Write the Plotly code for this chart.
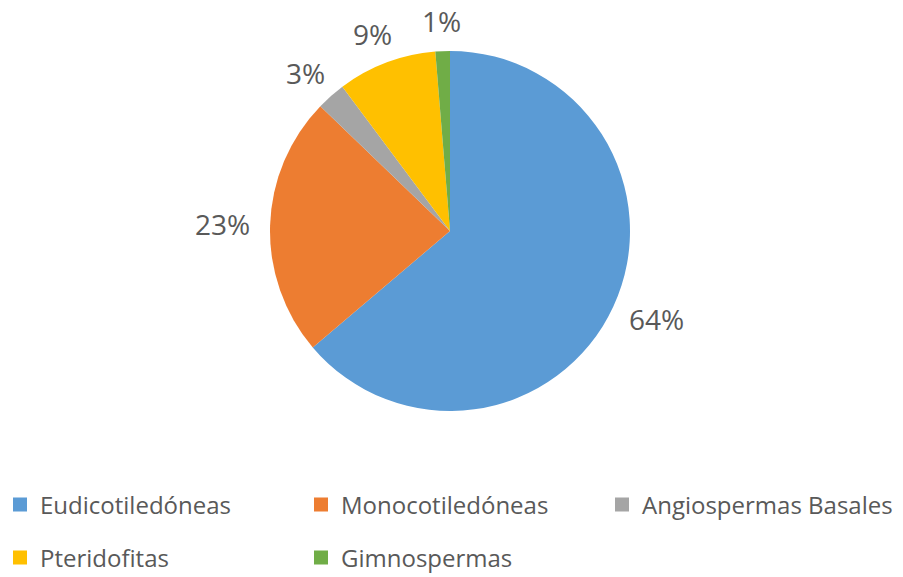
import math
import plotly.graph_objects as go

categories = ["Eudicotiledóneas", "Monocotiledóneas", "Angiospermas Basales", "Pteridofitas", "Gimnospermas"]
values = [63.8, 23.4, 2.6, 8.9, 1.3]
colors = ["#5B9BD5", "#ED7D31", "#A5A5A5", "#FFC000", "#70AD47"]
legend_rows = ["legend", "legend", "legend", "legend2", "legend2"]

W, H = 903, 577
cx, cy, R = 450, 231, 180  # pixel center/radius of pie
FONT = "Open Sans"
TXT = "#595959"
dom_x = [(cx - R) / W, (cx + R) / W]
dom_y = [(H - cy - R) / H, (H - cy + R) / H]

fig = go.Figure(go.Pie(
    labels=categories, values=values, sort=False, direction="clockwise", rotation=0,
    marker=dict(colors=colors, line=dict(color="white", width=0)),
    textinfo="none", hoverinfo="label+percent", showlegend=False,
    domain=dict(x=dom_x, y=dom_y),
))

# legend entries (library legend, two rows)
for cat, col, lg in zip(categories, colors, legend_rows):
    fig.add_trace(go.Scatter(x=[None], y=[None], mode="markers", name=cat,
                             marker=dict(symbol="square", size=14, color=col),
                             legend=lg, showlegend=True))

# outside percentage labels
total = sum(values)
cum = 0
ann = []
fs = 28
for v in values:
    mid = (cum + v / 2) / total * 2 * math.pi
    cum += v
    txt = f"{round(v / total * 100)}%"
    hw = fs * 0.3 * len(txt)
    hh = fs * 0.3
    s, c = math.sin(mid), math.cos(mid)
    r = R + 22
    px = cx + r * s + s * hw
    py = cy - r * c - c * hh
    ann.append(dict(x=px / W, y=(H - py) / H, xref="paper", yref="paper",
                    text=txt, showarrow=False,
                    font=dict(size=fs, color=TXT, family=FONT),
                    xanchor="center", yanchor="middle"))

legend_common = dict(orientation="h", x=0, xanchor="left", yanchor="middle",
                     entrywidth=256, entrywidthmode="pixels",
                     font=dict(size=24, color=TXT, family=FONT),
                     itemwidth=30, traceorder="normal", bgcolor="rgba(0,0,0,0)")

fig.update_layout(
    width=W, height=H, margin=dict(l=0, r=0, t=0, b=0, autoexpand=False),
    paper_bgcolor="white", plot_bgcolor="white",
    annotations=ann,
    xaxis=dict(visible=False), yaxis=dict(visible=False),
    legend=dict(legend_common, y=(H - 505) / H),
    legend2=dict(legend_common, y=(H - 558) / H),
)
fig.write_html("out.html", config={"displayModeBar": False},
               post_script="document.body.style.margin='0';")
